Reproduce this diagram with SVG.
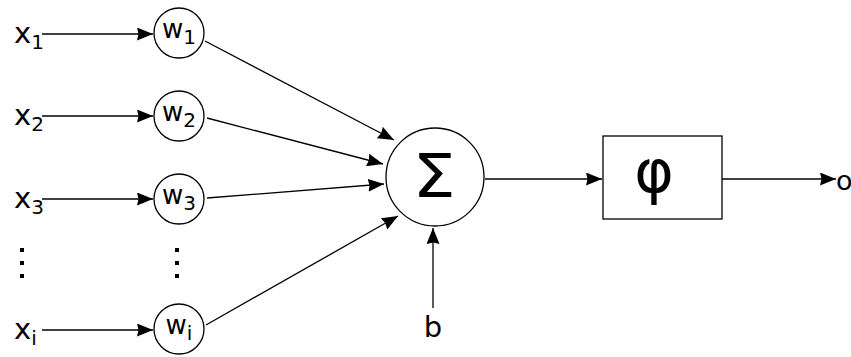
<svg xmlns="http://www.w3.org/2000/svg" width="851" height="357" viewBox="0 0 851 357">
<style>
text{font-family:"DejaVu Sans",sans-serif;fill:#000}
.lbl{font-size:29px}
.sub{font-size:20px}
.wl{font-size:26px}
.ws{font-size:20px}
.dot{fill:#000}
.node{fill:#fff;stroke:#000;stroke-width:1.3}
.edge{stroke:#000;stroke-width:1.3;fill:none;marker-end:url(#arr)}
</style>
<defs>
<marker id="arr" markerUnits="userSpaceOnUse" markerWidth="17" markerHeight="13" refX="16" refY="6.5" orient="auto">
<path d="M0,0 L16,6.5 L0,13 L1.5,6.5 z" fill="#000"/>
</marker>
</defs>
<rect width="851" height="357" fill="#fff"/>
<g id="inputs">
<text class="lbl" x="14" y="43">x<tspan class="sub" dy="6">1</tspan></text>
<text class="lbl" x="14" y="125">x<tspan class="sub" dy="6">2</tspan></text>
<text class="lbl" x="14" y="208">x<tspan class="sub" dy="6">3</tspan></text>
<text class="lbl" x="14" y="339">x<tspan class="sub" dy="6">i</tspan></text>
<rect class="dot" x="20" y="248" width="4" height="4"/>
<rect class="dot" x="20" y="261" width="4" height="4"/>
<rect class="dot" x="20" y="274" width="4" height="4"/>
</g>
<g id="w1"><circle class="node" cx="179" cy="33" r="25"/><text class="wl" x="179" y="38" text-anchor="middle">w<tspan class="ws" dy="6">1</tspan></text></g>
<g id="w2"><circle class="node" cx="179" cy="116" r="25"/><text class="wl" x="179" y="121" text-anchor="middle">w<tspan class="ws" dy="6">2</tspan></text></g>
<g id="w3"><circle class="node" cx="179" cy="199" r="25"/><text class="wl" x="179" y="204" text-anchor="middle">w<tspan class="ws" dy="6">3</tspan></text></g>
<g id="wdots">
<rect class="dot" x="175" y="248" width="4" height="4"/>
<rect class="dot" x="175" y="261" width="4" height="4"/>
<rect class="dot" x="175" y="274" width="4" height="4"/>
</g>
<g id="wi"><circle class="node" cx="179" cy="329" r="25"/><text class="wl" x="179" y="334" text-anchor="middle">w<tspan class="ws" dy="6">i</tspan></text></g>
<g id="sum"><circle class="node" cx="435" cy="177" r="49"/><text x="434" y="197" font-size="61" text-anchor="middle" transform="translate(434 0) scale(1.12 1) translate(-434 0)">Σ</text></g>
<g id="phi"><rect class="node" x="603" y="136" width="119" height="83"/><text x="654" y="192" font-size="60" text-anchor="middle">φ</text></g>
<g id="bias"><text class="lbl" x="433" y="337" text-anchor="middle">b</text></g>
<g id="out"><text x="836" y="190" font-size="27">o</text></g>
<g id="connectors">
<line class="edge" x1="42" y1="34" x2="153" y2="34"/>
<line class="edge" x1="42" y1="116" x2="153" y2="116"/>
<line class="edge" x1="42" y1="199" x2="153" y2="199"/>
<line class="edge" x1="42" y1="330" x2="153" y2="330"/>
<line class="edge" x1="205" y1="41" x2="394" y2="140"/>
<line class="edge" x1="207" y1="118" x2="383" y2="164"/>
<line class="edge" x1="207" y1="198" x2="384" y2="184"/>
<line class="edge" x1="206" y1="325" x2="398" y2="216"/>
<line class="edge" x1="433" y1="308" x2="433" y2="228"/>
<line class="edge" x1="485" y1="179" x2="602" y2="179"/>
<line class="edge" x1="722" y1="179" x2="836" y2="179"/>
</g>
</svg>
